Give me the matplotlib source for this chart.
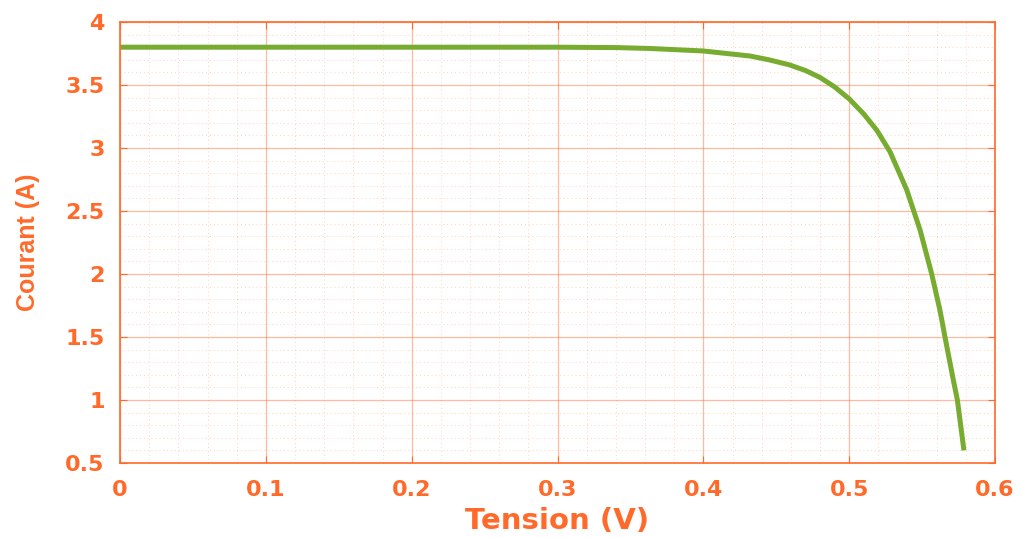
import numpy as np
import matplotlib.pyplot as plt
from matplotlib.ticker import MultipleLocator

# I-V curve
tension = [0.0, 0.1, 0.2, 0.3, 0.34, 0.363, 0.40, 0.42, 0.432, 0.445, 0.459, 0.47,
           0.48, 0.49, 0.50, 0.51, 0.519, 0.528, 0.5394, 0.5486, 0.5566, 0.5623,
           0.5657, 0.5714, 0.5742, 0.5787]
courant = [3.80, 3.80, 3.80, 3.80, 3.797, 3.79, 3.77, 3.745, 3.73, 3.70, 3.66, 3.615,
           3.56, 3.485, 3.39, 3.27, 3.14, 2.97, 2.67, 2.35, 2.00, 1.71,
           1.50, 1.16, 1.00, 0.60]

xticks = [0, 0.1, 0.2, 0.3, 0.4, 0.5, 0.6]
xlabels = ['0', '0.1', '0.2', '0.3', '0.4', '0.5', '0.6']
yticks = [0.5, 1, 1.5, 2, 2.5, 3, 3.5, 4]
ylabels = ['0.5', '1', '1.5', '2', '2.5', '3', '3.5', '4']

orange = '#FF6A2A'
green = '#77AC30'

plt.rcParams['font.family'] = ['DejaVu Sans']

fig = plt.figure(figsize=(10.23, 5.37), dpi=100)
ax = fig.add_axes([120 / 1023, 1 - 463 / 537, 875 / 1023, 441 / 537])

ax.plot(tension, courant, color=green, lw=3.6, solid_capstyle='butt',
        solid_joinstyle='round')

ax.set_xlim(0, 0.6)
ax.set_ylim(0.5, 4)
ax.set_xticks(xticks, xlabels)
ax.set_yticks(yticks, ylabels)
ax.xaxis.set_minor_locator(MultipleLocator(0.02))
ax.yaxis.set_minor_locator(MultipleLocator(0.1))

ax.grid(which='major', color=orange, alpha=0.45, lw=0.9, ls='-')
ax.grid(which='minor', color=orange, alpha=0.3, lw=0.7, ls=(0, (1, 3)))
ax.set_axisbelow(True)

for s in ax.spines.values():
    s.set_color(orange)
    s.set_linewidth(1.2)
ax.tick_params(which='both', direction='in', top=True, right=True, colors=orange,
               labelsize=16)
ax.tick_params(axis='x', pad=12)
ax.tick_params(axis='y', pad=11)
ax.tick_params(which='major', length=5)
ax.tick_params(which='minor', length=0)
for lab in ax.get_xticklabels() + ax.get_yticklabels():
    lab.set_fontweight('bold')

ax.set_xlabel('Tension (V)', color=orange, fontsize=21, fontweight='bold')
ax.set_ylabel('Courant (A)', color=orange, fontsize=18, fontweight='bold',
              family=['Liberation Sans', 'DejaVu Sans'])
ax.xaxis.set_label_coords(0.5, -0.1)
ax.yaxis.set_label_coords(-0.092, 0.5)

fig.savefig('out.png', dpi=100)
